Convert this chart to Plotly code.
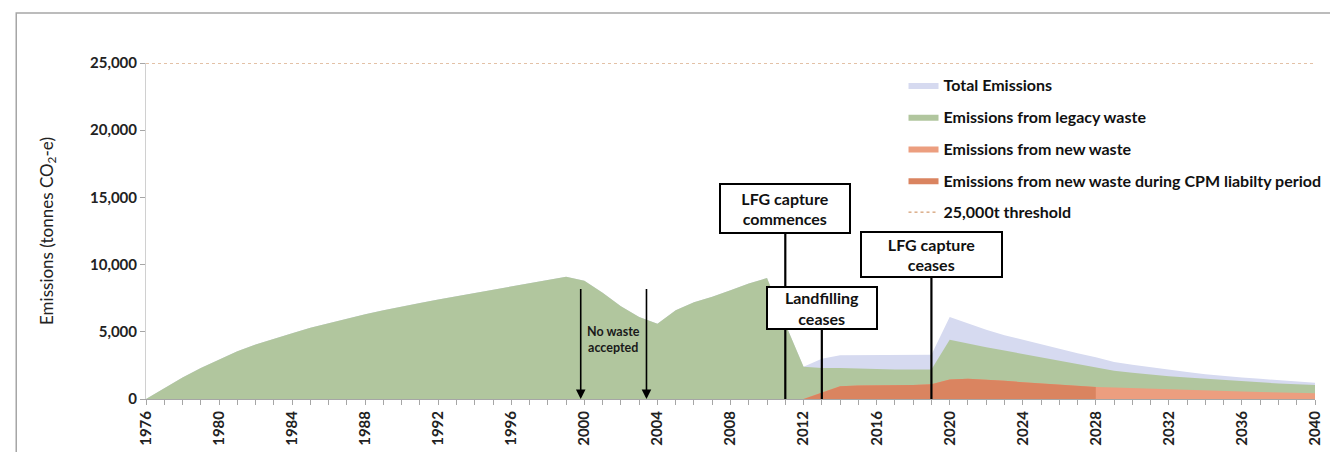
import plotly.graph_objects as go

years = list(range(1976, 2041))

legacy = [
    0, 800, 1600, 2300, 2950, 3550, 4050, 4500, 4900, 5300,
    5650, 6000, 6300, 6600, 6900, 7150, 7400, 7650, 7900, 8150,
    8400, 8650, 8900, 9100, 8800, 7900, 6900, 6100, 5600, 6600,
    7200, 7600, 8100, 8600, 9000, 5600, 2400, 2300, 2300, 2250,
    2250, 2200, 2200, 2200, 4400, 4100, 3850, 3600, 3350, 3100,
    2850, 2600, 2350, 2100, 1950, 1800, 1700, 1600, 1500, 1400,
    1300, 1250, 1150, 1100, 1050,
]

total = legacy[:37] + [
    3000, 3250, 3250, 3250, 3250, 3250, 3300, 6100, 5600, 5150,
    4750, 4400, 4050, 3700, 3400, 3100, 2750, 2550, 2350, 2150,
    2000, 1850, 1700, 1600, 1500, 1400, 1300, 1200,
]

new_waste = [None] * 36 + [
    0, 500, 950, 1000, 1000, 1050, 1050, 1100, 1450, 1500,
    1450, 1350, 1250, 1150, 1050, 950, 900, 850, 800, 750,
    700, 650, 600, 580, 550, 520, 490, 460, 430,
]

cpm_new_waste = new_waste[:53] + [None] * 12

threshold = [25000] * len(years)

# callout boxes: (year, box centre y, label, box width, box height)
events = [
    (2011, 14200, "LFG capture<br>commences", 126, 45),
    (2013, 6750, "Landfilling<br>ceases", 106, 38),
    (2019, 10750, "LFG capture<br>ceases", 137, 41),
]
no_waste_years = [1999.8, 2003.4]
no_waste_top = 8300

font_family = "Lato, 'Open Sans', sans-serif"

fig = go.Figure()

fig.add_trace(go.Scatter(
    x=years, y=total, name="Total Emissions", mode="lines",
    fill="tozeroy", fillcolor="#D6DAF0", line=dict(width=0, color="#D6DAF0"),
    legendgroup="a",
))
fig.add_trace(go.Scatter(
    x=years, y=legacy, name="Emissions from legacy waste", mode="lines",
    fill="tozeroy", fillcolor="#B1C69E", line=dict(width=0, color="#B1C69E"),
    legendgroup="b",
))
fig.add_trace(go.Scatter(
    x=years, y=new_waste, name="Emissions from new waste", mode="lines",
    fill="tozeroy", fillcolor="#EC9E7F", line=dict(width=0, color="#EC9E7F"),
    legendgroup="c",
))
fig.add_trace(go.Scatter(
    x=years, y=cpm_new_waste,
    name="Emissions from new waste during CPM liabilty period", mode="lines",
    fill="tozeroy", fillcolor="#DA8460", line=dict(width=0, color="#DA8460"),
    legendgroup="d",
))
fig.add_trace(go.Scatter(
    x=years, y=threshold, name="25,000t threshold", mode="lines",
    line=dict(width=1, color="#C8844F", dash="dot"),
    legendgroup="e",
))

for yr, ybox, label, w, h in events:
    fig.add_annotation(
        x=yr, y=0, ax=yr, ay=ybox, axref="x", ayref="y",
        text=label, showarrow=True, arrowhead=0, arrowwidth=2.2,
        arrowcolor="black", width=w, height=h,
        bordercolor="black", borderwidth=2, borderpad=1, bgcolor="white",
        font=dict(family=font_family, size=16, color="#111111", weight="bold"),
    )

for yr in no_waste_years:
    fig.add_annotation(
        x=yr, y=0, ax=yr, ay=no_waste_top, axref="x", ayref="y",
        text="", showarrow=True, arrowhead=2, arrowsize=1.2,
        arrowwidth=1.6, arrowcolor="black",
    )

fig.add_annotation(
    x=sum(no_waste_years) / 2, y=4400, text="No waste<br>accepted",
    showarrow=False,
    font=dict(family=font_family, size=12.5, color="#1a1a1a", weight="bold"),
)

# outer chart frame
fig.add_shape(
    type="rect", xref="paper", yref="paper",
    x0=-0.111, x1=1.018, y0=-0.3, y1=1.149,
    line=dict(color="#A6A6A6", width=1.5), fillcolor="rgba(0,0,0,0)",
)

fig.update_layout(
    width=1338, height=452,
    margin=dict(l=138, r=31, t=55, b=61),
    paper_bgcolor="white", plot_bgcolor="white",
    font=dict(family=font_family, size=15, color="#222222"),
    showlegend=True,
    legend=dict(
        x=0.648, y=0.985, xanchor="left", yanchor="top",
        bgcolor="rgba(0,0,0,0)", tracegroupgap=8,
        font=dict(family=font_family, size=16, color="#111111", weight="bold"),
        itemwidth=30,
    ),
    xaxis=dict(
        range=[1976, 2040], tick0=1976, dtick=4, tickangle=-90,
        ticks="outside", ticklen=5, tickcolor="#A6A6A6",
        showline=True, linecolor="#A6A6A6", linewidth=1,
        showgrid=False, zeroline=False,
        tickfont=dict(size=15, color="#222222", weight="bold"),
        minor=dict(dtick=1, ticks="outside", ticklen=5, tickcolor="#A6A6A6"),
    ),
    yaxis=dict(
        range=[0, 25000], tickvals=[0, 5000, 10000, 15000, 20000, 25000],
        tickformat=",d", ticks="outside", ticklen=5, tickcolor="#A6A6A6",
        showline=True, linecolor="#D0D0D0", linewidth=1,
        showgrid=False, zeroline=False,
        tickfont=dict(size=15, color="#222222", weight="bold"),
        title=dict(text="Emissions (tonnes CO<sub>2</sub>-e)", standoff=32,
                   font=dict(size=17, color="#222222")),
    ),
)

fig.write_html("out.html")
